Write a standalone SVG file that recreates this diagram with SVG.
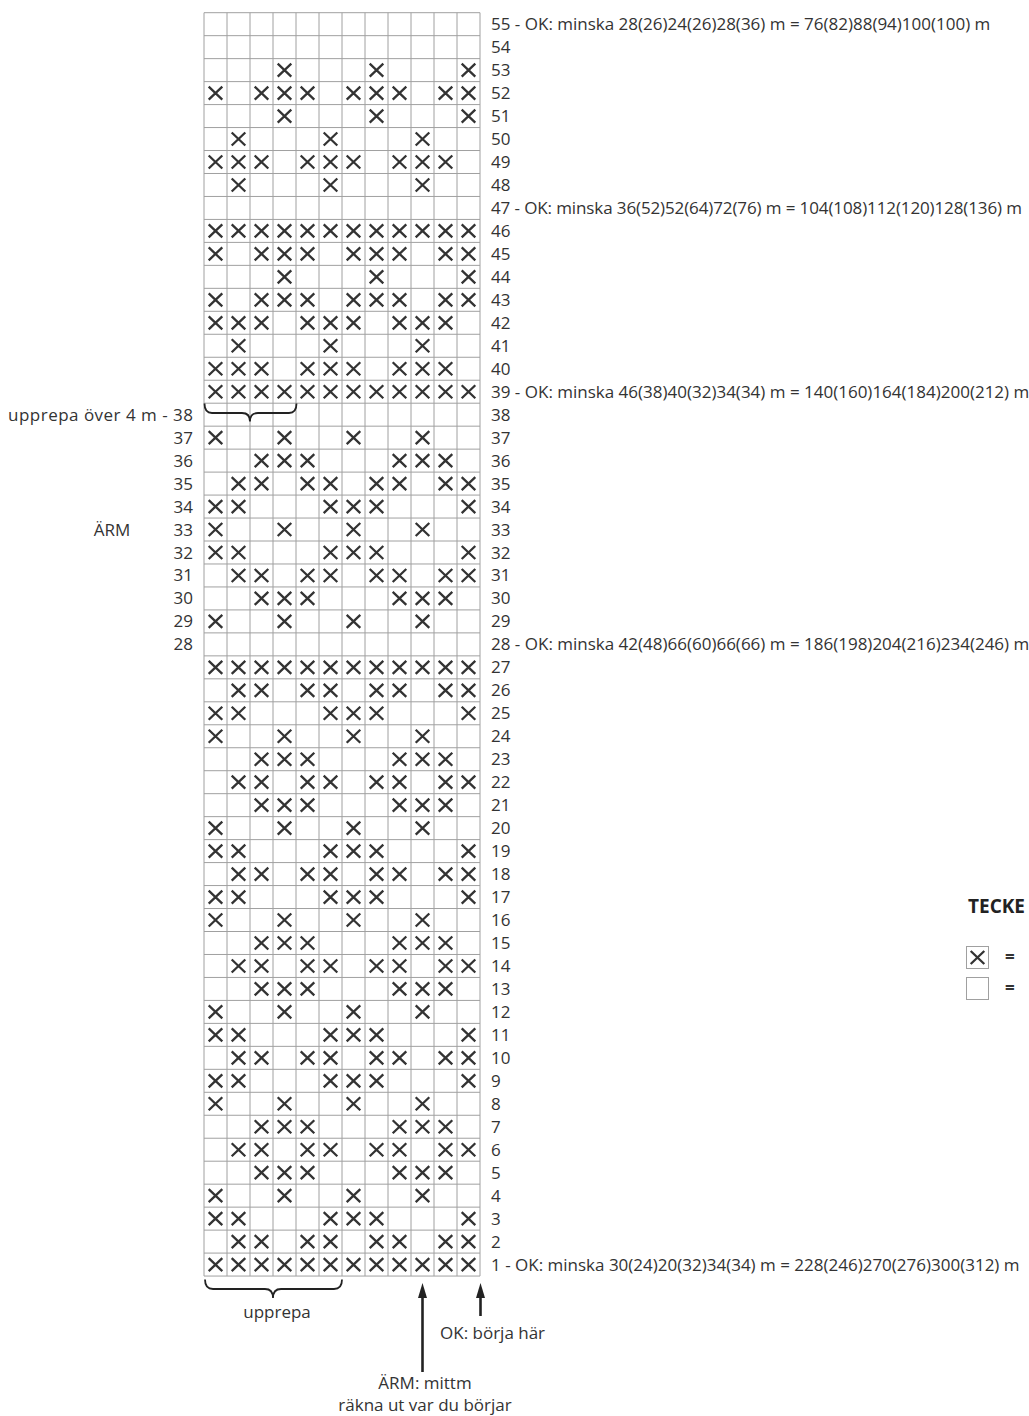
<svg xmlns="http://www.w3.org/2000/svg" xmlns:xlink="http://www.w3.org/1999/xlink" width="1029" height="1416" viewBox="0 0 1029 1416">
<style>
.t{font-family:"Open Sans","Liberation Sans",sans-serif;font-size:17px;fill:#333}
.b{font-family:"Open Sans","Liberation Sans",sans-serif;font-size:19px;font-weight:bold;fill:#222}
.q{font-family:"Open Sans","Liberation Sans",sans-serif;font-size:17px;font-weight:bold;fill:#333}
.g{stroke:#a0a0a0;stroke-width:1;fill:none}
.x{stroke:#333;stroke-width:2.3;fill:none}
.br{stroke:#222;stroke-width:1.8;fill:none}
.ar{stroke:#222;stroke-width:2.6;fill:none}
</style>
<defs>
<marker id="ah" viewBox="0 0 15 9" refX="7" refY="4.5" markerWidth="15" markerHeight="9" markerUnits="userSpaceOnUse" orient="auto">
<path d="M0,0L15,4.5L0,9z" fill="#222"/>
</marker>
<path id="x" class="x" d="M-6.8-6.5L6.8 6.5M6.8-6.5L-6.8 6.5"/>
<g id="pA"><use href="#x" x="215.5"/><use href="#x" x="238.5"/><use href="#x" x="261.5"/><use href="#x" x="284.5"/><use href="#x" x="307.5"/><use href="#x" x="330.5"/><use href="#x" x="353.5"/><use href="#x" x="376.5"/><use href="#x" x="399.5"/><use href="#x" x="422.5"/><use href="#x" x="445.5"/><use href="#x" x="468.5"/></g>
<g id="pB"><use href="#x" x="215.5"/><use href="#x" x="261.5"/><use href="#x" x="284.5"/><use href="#x" x="307.5"/><use href="#x" x="353.5"/><use href="#x" x="376.5"/><use href="#x" x="399.5"/><use href="#x" x="445.5"/><use href="#x" x="468.5"/></g>
<g id="pC"><use href="#x" x="284.5"/><use href="#x" x="376.5"/><use href="#x" x="468.5"/></g>
<g id="pD"><use href="#x" x="238.5"/><use href="#x" x="330.5"/><use href="#x" x="422.5"/></g>
<g id="pE"><use href="#x" x="215.5"/><use href="#x" x="238.5"/><use href="#x" x="261.5"/><use href="#x" x="307.5"/><use href="#x" x="330.5"/><use href="#x" x="353.5"/><use href="#x" x="399.5"/><use href="#x" x="422.5"/><use href="#x" x="445.5"/></g>
<g id="pF"><use href="#x" x="215.5"/><use href="#x" x="284.5"/><use href="#x" x="353.5"/><use href="#x" x="422.5"/></g>
<g id="pG"><use href="#x" x="261.5"/><use href="#x" x="284.5"/><use href="#x" x="307.5"/><use href="#x" x="399.5"/><use href="#x" x="422.5"/><use href="#x" x="445.5"/></g>
<g id="pH"><use href="#x" x="238.5"/><use href="#x" x="261.5"/><use href="#x" x="307.5"/><use href="#x" x="330.5"/><use href="#x" x="376.5"/><use href="#x" x="399.5"/><use href="#x" x="445.5"/><use href="#x" x="468.5"/></g>
<g id="pI"><use href="#x" x="215.5"/><use href="#x" x="238.5"/><use href="#x" x="330.5"/><use href="#x" x="353.5"/><use href="#x" x="376.5"/><use href="#x" x="468.5"/></g>
</defs>
<rect width="1029" height="1416" fill="#fff"/>
<g id="grid">
<path class="g" d="M204,12.7V1276.05M227,12.7V1276.05M250,12.7V1276.05M273,12.7V1276.05M296,12.7V1276.05M319,12.7V1276.05M342,12.7V1276.05M365,12.7V1276.05M388,12.7V1276.05M411,12.7V1276.05M434,12.7V1276.05M457,12.7V1276.05M480,12.7V1276.05"/>
<path class="g" d="M204,12.7H480M204,35.67H480M204,58.64H480M204,81.61H480M204,104.58H480M204,127.55H480M204,150.52H480M204,173.49H480M204,196.46H480M204,219.43H480M204,242.4H480M204,265.37H480M204,288.34H480M204,311.31H480M204,334.28H480M204,357.25H480M204,380.22H480M204,403.19H480M204,426.16H480M204,449.13H480M204,472.1H480M204,495.07H480M204,518.04H480M204,541.01H480M204,563.98H480M204,586.95H480M204,609.92H480M204,632.89H480M204,655.86H480M204,678.83H480M204,701.8H480M204,724.77H480M204,747.74H480M204,770.71H480M204,793.68H480M204,816.65H480M204,839.62H480M204,862.59H480M204,885.56H480M204,908.53H480M204,931.5H480M204,954.47H480M204,977.44H480M204,1000.41H480M204,1023.38H480M204,1046.35H480M204,1069.32H480M204,1092.29H480M204,1115.26H480M204,1138.23H480M204,1161.2H480M204,1184.17H480M204,1207.14H480M204,1230.11H480M204,1253.08H480M204,1276.05H480"/>
</g>
<g id="marks">
<use href="#pC" y="70.13"/>
<use href="#pB" y="93.1"/>
<use href="#pC" y="116.07"/>
<use href="#pD" y="139.04"/>
<use href="#pE" y="162.01"/>
<use href="#pD" y="184.98"/>
<use href="#pA" y="230.92"/>
<use href="#pB" y="253.89"/>
<use href="#pC" y="276.86"/>
<use href="#pB" y="299.83"/>
<use href="#pE" y="322.8"/>
<use href="#pD" y="345.77"/>
<use href="#pE" y="368.74"/>
<use href="#pA" y="391.71"/>
<use href="#pF" y="437.65"/>
<use href="#pG" y="460.62"/>
<use href="#pH" y="483.59"/>
<use href="#pI" y="506.56"/>
<use href="#pF" y="529.53"/>
<use href="#pI" y="552.5"/>
<use href="#pH" y="575.47"/>
<use href="#pG" y="598.44"/>
<use href="#pF" y="621.41"/>
<use href="#pA" y="667.35"/>
<use href="#pH" y="690.32"/>
<use href="#pI" y="713.29"/>
<use href="#pF" y="736.26"/>
<use href="#pG" y="759.23"/>
<use href="#pH" y="782.2"/>
<use href="#pG" y="805.17"/>
<use href="#pF" y="828.14"/>
<use href="#pI" y="851.11"/>
<use href="#pH" y="874.08"/>
<use href="#pI" y="897.05"/>
<use href="#pF" y="920.02"/>
<use href="#pG" y="942.99"/>
<use href="#pH" y="965.96"/>
<use href="#pG" y="988.93"/>
<use href="#pF" y="1011.9"/>
<use href="#pI" y="1034.87"/>
<use href="#pH" y="1057.84"/>
<use href="#pI" y="1080.81"/>
<use href="#pF" y="1103.78"/>
<use href="#pG" y="1126.75"/>
<use href="#pH" y="1149.72"/>
<use href="#pG" y="1172.69"/>
<use href="#pF" y="1195.66"/>
<use href="#pI" y="1218.63"/>
<use href="#pH" y="1241.6"/>
<use href="#pA" y="1264.57"/>
</g>
<g id="right-labels">
<text class="t" x="491" y="30.19">55 - OK: minska 28(26)24(26)28(36) m = 76(82)88(94)100(100) m</text>
<text class="t" x="491" y="213.95" textLength="531" lengthAdjust="spacing">47 - OK: minska 36(52)52(64)72(76) m = 104(108)112(120)128(136) m</text>
<text class="t" x="491" y="397.71">39 - OK: minska 46(38)40(32)34(34) m = 140(160)164(184)200(212) m</text>
<text class="t" x="491" y="650.38">28 - OK: minska 42(48)66(60)66(66) m = 186(198)204(216)234(246) m</text>
<text class="t" x="491" y="1270.57">1 - OK: minska 30(24)20(32)34(34) m = 228(246)270(276)300(312) m</text>
<text class="t"><tspan x="491" y="53.16">54</tspan><tspan x="491" y="76.13">53</tspan><tspan x="491" y="99.1">52</tspan><tspan x="491" y="122.07">51</tspan><tspan x="491" y="145.04">50</tspan><tspan x="491" y="168.01">49</tspan><tspan x="491" y="190.98">48</tspan><tspan x="491" y="236.92">46</tspan><tspan x="491" y="259.89">45</tspan><tspan x="491" y="282.86">44</tspan><tspan x="491" y="305.83">43</tspan><tspan x="491" y="328.8">42</tspan><tspan x="491" y="351.77">41</tspan><tspan x="491" y="374.74">40</tspan><tspan x="491" y="420.68">38</tspan><tspan x="491" y="443.65">37</tspan><tspan x="491" y="466.62">36</tspan><tspan x="491" y="489.59">35</tspan><tspan x="491" y="512.56">34</tspan><tspan x="491" y="535.53">33</tspan><tspan x="491" y="558.5">32</tspan><tspan x="491" y="581.47">31</tspan><tspan x="491" y="604.44">30</tspan><tspan x="491" y="627.41">29</tspan><tspan x="491" y="673.35">27</tspan><tspan x="491" y="696.32">26</tspan><tspan x="491" y="719.29">25</tspan><tspan x="491" y="742.26">24</tspan><tspan x="491" y="765.23">23</tspan><tspan x="491" y="788.2">22</tspan><tspan x="491" y="811.17">21</tspan><tspan x="491" y="834.14">20</tspan><tspan x="491" y="857.11">19</tspan><tspan x="491" y="880.08">18</tspan><tspan x="491" y="903.05">17</tspan><tspan x="491" y="926.02">16</tspan><tspan x="491" y="948.99">15</tspan><tspan x="491" y="971.96">14</tspan><tspan x="491" y="994.93">13</tspan><tspan x="491" y="1017.9">12</tspan><tspan x="491" y="1040.87">11</tspan><tspan x="491" y="1063.84">10</tspan><tspan x="491" y="1086.81">9</tspan><tspan x="491" y="1109.78">8</tspan><tspan x="491" y="1132.75">7</tspan><tspan x="491" y="1155.72">6</tspan><tspan x="491" y="1178.69">5</tspan><tspan x="491" y="1201.66">4</tspan><tspan x="491" y="1224.63">3</tspan><tspan x="491" y="1247.6">2</tspan></text>
</g>
<g id="left-labels">
<text class="t" x="8" y="420.68" textLength="185" lengthAdjust="spacing">upprepa över 4 m - 38</text>
<text class="t" text-anchor="end"><tspan x="193" y="443.65">37</tspan><tspan x="193" y="466.62">36</tspan><tspan x="193" y="489.59">35</tspan><tspan x="193" y="512.56">34</tspan><tspan x="193" y="535.53">33</tspan><tspan x="193" y="558.5">32</tspan><tspan x="193" y="581.47">31</tspan><tspan x="193" y="604.44">30</tspan><tspan x="193" y="627.41">29</tspan><tspan x="193" y="650.38">28</tspan></text>
<text class="t" x="112" y="535.53" text-anchor="middle">ÄRM</text>
</g>
<g id="braces">
<path class="br" d="M204.5,403.5Q204.5,413 212,413L242,413Q250,413 250,421.5Q250,413 258,413L289,413Q296.5,413 296.5,403.5"/>
<path class="br" d="M205,1279.5Q205,1289 213,1289L265,1289Q273,1289 273,1298Q273,1289 281,1289L334,1289Q342,1289 342,1279.5"/>
<text class="t" x="277" y="1318" text-anchor="middle">upprepa</text>
</g>
<g id="connectors">
<line class="ar" x1="422.5" y1="1372" x2="422.5" y2="1291" marker-end="url(#ah)"/>
<line class="ar" x1="480.5" y1="1316" x2="480.5" y2="1291" marker-end="url(#ah)"/>
</g>
<g id="arrow-labels">
<text class="t" x="440" y="1339">OK: börja här</text>
<text class="t" x="425" y="1389" text-anchor="middle">ÄRM: mittm</text>
<text class="t" x="425" y="1411" text-anchor="middle">räkna ut var du börjar</text>
</g>
<g id="legend">
<text class="b" x="968" y="913">TECKE</text>
<rect x="966.5" y="946.5" width="22" height="22" fill="#fff" stroke="#a0a0a0"/>
<use href="#x" x="977.5" y="957.5"/>
<text class="q" x="1005" y="963">=</text>
<rect x="966.5" y="977.5" width="22" height="22" fill="#fff" stroke="#a0a0a0"/>
<text class="q" x="1005" y="994">=</text>
</g>
</svg>
